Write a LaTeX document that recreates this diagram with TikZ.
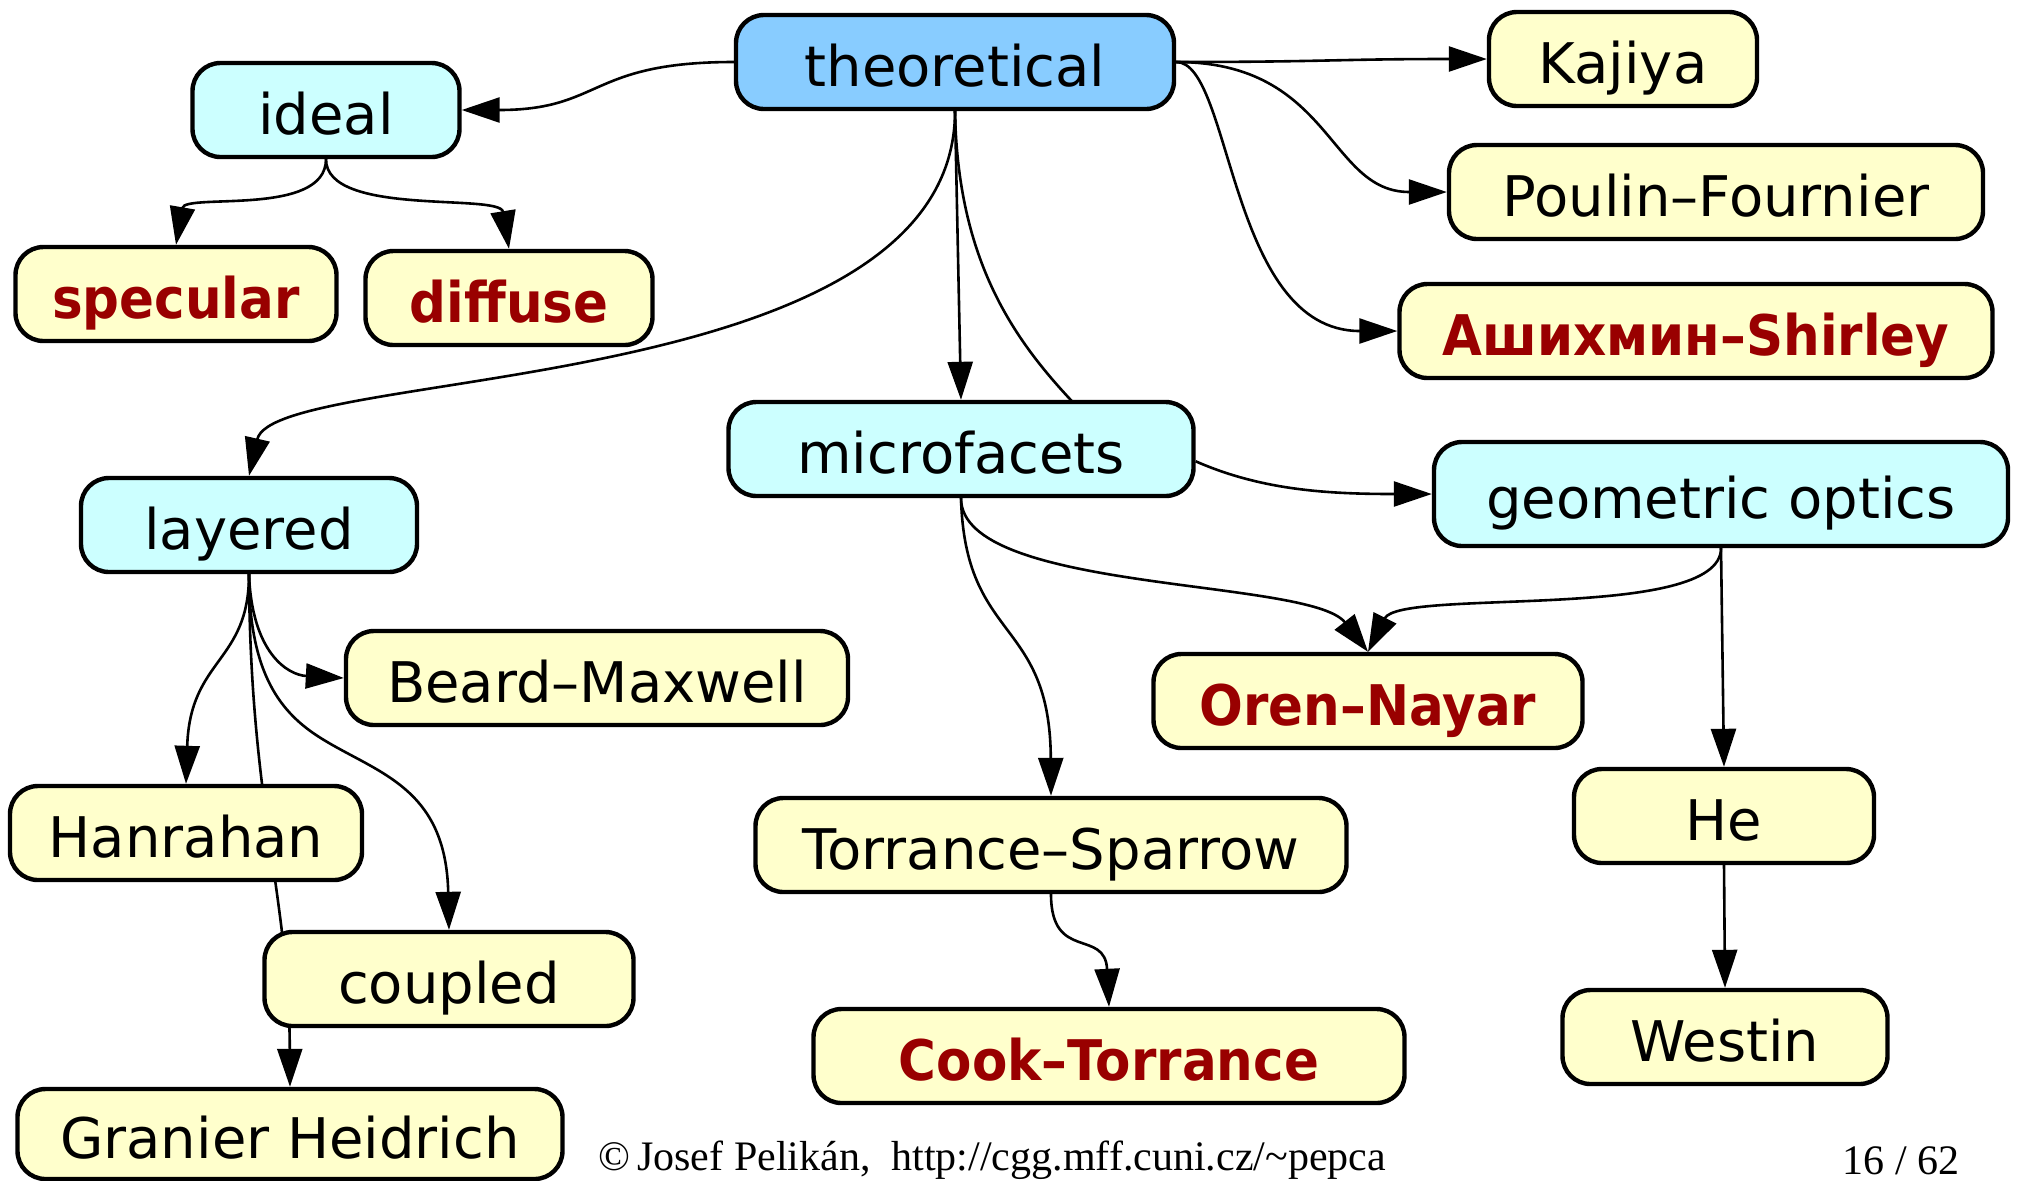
\documentclass[tikz,border=0pt]{standalone}
\usepackage{fontspec}
\setmainfont{DejaVu Sans}
\newfontfamily\hotfont[FakeStretch=0.92]{DejaVu Sans Bold}
\newfontfamily\footfont{Liberation Serif}
\usetikzlibrary{arrows.meta}
\pgfdeclarelayer{paper}
\pgfdeclarelayer{bg}
\pgfsetlayers{paper,bg,main}
\definecolor{theoblue}{HTML}{88CCFF}
\definecolor{catcyan}{HTML}{CCFFFF}
\definecolor{leafyellow}{HTML}{FFFFCC}
\definecolor{boldred}{HTML}{990000}
\tikzset{
  box/.style={draw=black, line width=2.2pt, rounded corners=14pt,
    minimum height=47pt, inner sep=0pt, text height=24pt, text depth=0pt,
    font=\fontsize{28}{32}\selectfont},
  rootbox/.style={box, fill=theoblue},
  catbox/.style={box, fill=catcyan},
  leafbox/.style={box, fill=leafyellow},
  hotbox/.style={box, fill=leafyellow, text=boldred, font=\hotfont\fontsize{28}{32}\selectfont},
  edge/.style={line width=1.3pt, -{Triangle[length=19pt,width=12.5pt]}},
  plainedge/.style={line width=1.3pt},
}
\begin{document}
\begin{tikzpicture}[x=0.5pt,y=-0.5pt]
\begin{pgfonlayer}{paper}
\fill[white] (0,0) rectangle (2018,1180);
\end{pgfonlayer}
\useasboundingbox (0,0) rectangle (2018,1180);
% nodes
\node[rootbox, minimum width=219pt] (theo) at (955,62) {theoretical};
\node[catbox, minimum width=133.5pt] (ideal) at (326,110) {ideal};
\node[hotbox, minimum width=160.5pt] (spec) at (176,294) {specular};
\node[hotbox, minimum width=143.5pt] (diff) at (509,298) {diffuse};
\node[leafbox, minimum width=134pt] (kaj) at (1623,59) {Kajiya};
\node[leafbox, minimum width=267pt] (poul) at (1716,192) {Poulin–Fournier};
\node[hotbox, minimum width=296.5pt] (ash) at (1696,331) {Ашихмин–Shirley};
\node[catbox, minimum width=232.5pt] (micro) at (961,449) {microfacets};
\node[catbox, minimum width=287pt, minimum height=52pt] (geo) at (1721,494) {geometric optics};
\node[catbox, minimum width=168pt] (lay) at (249,525) {layered};
\node[leafbox, minimum width=251pt] (beard) at (597,678) {Beard–Maxwell};
\node[hotbox, minimum width=214.5pt] (oren) at (1368,701) {Oren–Nayar};
\node[leafbox, minimum width=176pt] (han) at (186,833) {Hanrahan};
\node[leafbox, minimum width=184.5pt] (coup) at (449,979) {coupled};
\node[leafbox, minimum width=295.5pt] (torr) at (1051,845) {Torrance–Sparrow};
\node[leafbox, minimum width=150pt] (he) at (1724,816) {He};
\node[leafbox, minimum width=162.5pt] (west) at (1725,1037) {Westin};
\node[hotbox, minimum width=295.5pt] (cook) at (1109,1056) {Cook–Torrance};
\node[leafbox, minimum width=272.5pt, minimum height=45pt] (gran) at (290,1134) {Granier Heidrich};
\coordinate (mhid) at (1100,430);
% footer
\node[anchor=base west, inner sep=0pt, font=\footfont\fontsize{21}{24}\selectfont] (foot) at (598,1170) {©\,Josef Pelikán,\ \ http://cgg.mff.cuni.cz/\textasciitilde pepca};
\node[anchor=base east, inner sep=0pt, font=\footfont\fontsize{21}{24}\selectfont] (pg) at (1960,1174) {16 / 62};
% edges
\begin{pgfonlayer}{bg}
\draw[edge] (theo.west) .. controls +(-146,0) and +(141,0) .. (ideal.east);
\draw[edge] (ideal.south) .. controls +(0,58) and +(9,-52) .. (spec.north);
\draw[edge] (ideal.south) .. controls +(0,58) and +(-9,-56) .. (diff.north);
\draw[edge] (theo.east) .. controls +(150,0) and +(-150,0) .. (kaj.west);
\draw[edge] (theo.east) .. controls +(156,0) and +(-119,0) .. (poul.west);
\draw[edge] (theo.east) .. controls +(56,0) and +(-169,0) .. (ash.west);
\draw[edge] (theo.south) .. controls +(0,290) and +(25,-110) .. (lay.north);
\draw[edge] (theo.south) -- (micro.north);
\draw[plainedge] (theo.south) .. controls +(3,170) and +(-70,-70) .. (mhid);
\draw[edge] (micro.-3) .. controls +(66,29) and +(-104,0) .. (geo.west);
\draw[edge] (micro.south) .. controls +(0,95) and +(-58,-74) .. (oren.north);
\draw[edge] (geo.south) .. controls +(0,74) and +(32,-64) .. (oren.north);
\draw[edge] (geo.south) -- (he.north);
\draw[edge] (he.south) -- (west.north);
\draw[edge] (micro.south) .. controls +(4,145) and +(-1,-179) .. (torr.north);
\draw[edge] (torr.south) .. controls +(0,68) and +(-4,-79) .. (cook.north);
\draw[edge] (lay.south) .. controls +(3,79) and +(-56,-3) .. (beard.west);
\draw[edge] (lay.south) .. controls +(0,89) and +(4,-126) .. (han.north);
\draw[edge] (lay.south) .. controls +(0,100) and +(-40,-25) .. ++(72,164)
                        .. controls +(56,35) and +(-3,-143) .. (coup.north);
\draw[edge] (lay.south) .. controls +(1,229) and +(-1,-190) .. (gran.north);
\end{pgfonlayer}
\end{tikzpicture}
\end{document}
